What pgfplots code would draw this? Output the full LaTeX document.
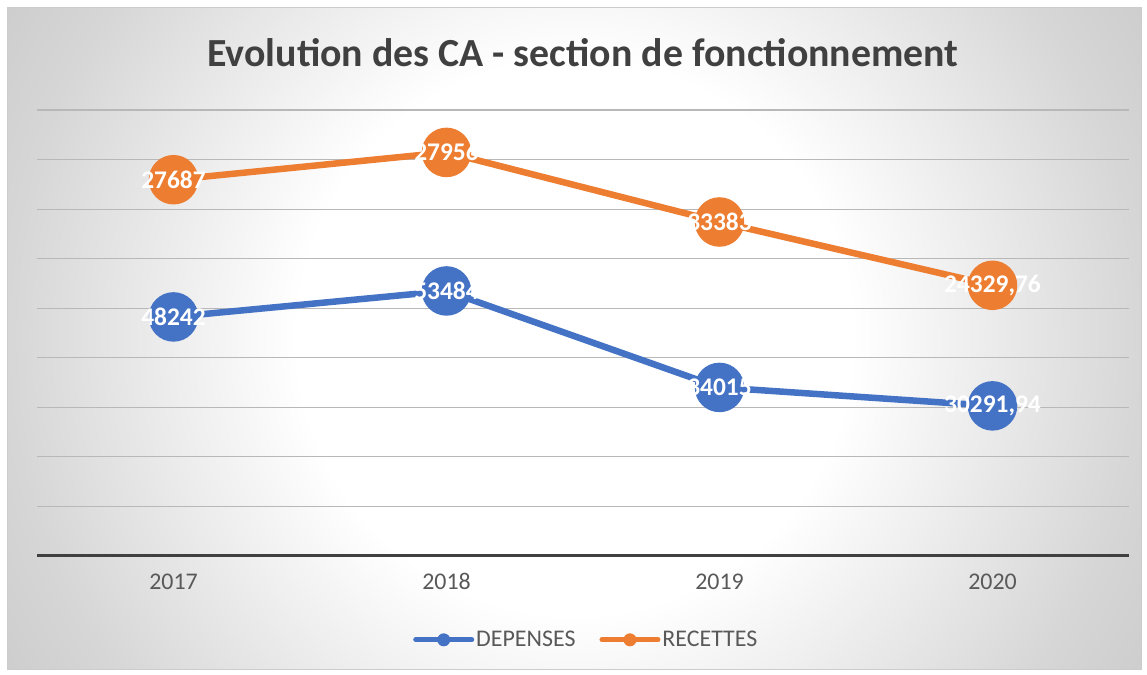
\documentclass[border=0pt]{standalone}
\usepackage{fontspec}
\setmainfont{Carlito}
\usepackage{pgfplots}
\pgfplotsset{compat=1.18}
\definecolor{dep}{HTML}{4472C4}
\definecolor{rec}{HTML}{ED7D31}
\definecolor{txt}{HTML}{595959}
\definecolor{ttl}{HTML}{404040}
\pgfdeclareradialshading{bgshade}{\pgfpoint{0bp}{0bp}}{color(0bp)=(white); color(21bp)=(white); color(43bp)=(black!16); color(50bp)=(black!19.5)}
\begin{document}
\begin{tikzpicture}[x=1bp,y=1bp]
\path[use as bounding box] (0,0) rectangle (1147,675);
\begin{scope}
\clip (7,5) rectangle (1141,667);
\pgflowlevelobj{\pgftransformshift{\pgfpoint{575bp}{338bp}}\pgftransformscale{13.2}}{\pgfuseshading{bgshade}}
\end{scope}
\draw[black!20, line width=1bp] (7,5) rectangle (1141,667);
\node[font=\fontsize{40}{46}\selectfont\bfseries, text=ttl] at (583,622) {Evolution des CA - section de fonctionnement};
\begin{axis}[
 at={(37bp,119bp)}, anchor=south west,
 width=1092bp, height=446bp, scale only axis,
 xmin=-0.5, xmax=3.5, ymin=0, ymax=90000,
 xtick={0,1,2,3}, xticklabels={2017,2018,2019,2020},
 ytick={0,10000,...,90000}, yticklabels={}, scaled y ticks=false,
 ymajorgrids, grid style={black!28, line width=1.2bp},
 axis x line*=bottom, axis y line*=left,
 y axis line style={draw=none},
 x axis line style={-, line width=3bp, black!75},
 major tick length=0,
 xticklabel style={font=\fontsize{24}{28}\selectfont, text=txt, yshift=-14bp},
 stack plots=y,
 clip=false,
 nodes near coords, point meta=explicit symbolic,
 nodes near coords align={center},
 every node near coord/.append style={font=\fontsize{25.5}{30}\selectfont\bfseries, text=white, anchor=center, inner sep=0pt},
 legend columns=2,
 legend style={at={(0.503,-0.188)}, anchor=center, draw=none, fill=none,
   font=\fontsize{24}{28}\selectfont, text=txt,
   /tikz/every even column/.append style={column sep=22bp}},
]
\addplot[dep, line width=6.5bp, mark=*, mark size=21.5bp,
  mark options={solid, fill=dep, draw=none},
  legend image code/.code={\draw[dep, line width=5bp, line cap=round] (0bp,0bp) -- (56bp,0bp); \fill[dep, draw=none] (28bp,0bp) circle (6.5bp);}]
  coordinates {(0,48242) [48242] (1,53484) [53484] (2,34015) [34015] (3,30291.94) [30291,94]};
\addlegendentry{DEPENSES}
\addplot[rec, line width=6.5bp, mark=*, mark size=21.5bp,
  mark options={solid, fill=rec, draw=none},
  legend image code/.code={\draw[rec, line width=5bp, line cap=round] (0bp,0bp) -- (56bp,0bp); \fill[rec, draw=none] (28bp,0bp) circle (6.5bp);}]
  coordinates {(0,27687) [27687] (1,27956) [27956] (2,33383) [33383] (3,24329.76) [24329,76]};
\addlegendentry{RECETTES}
\end{axis}
\end{tikzpicture}
\end{document}
